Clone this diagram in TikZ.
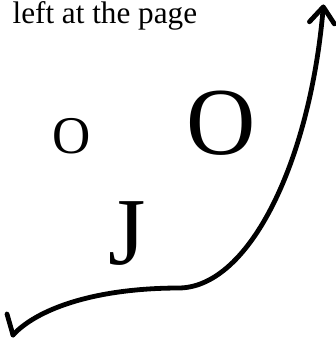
\documentclass[tikz,border=0pt]{standalone}
\usepackage{fontspec}
\setmainfont{Liberation Serif}
\usetikzlibrary{arrows.meta, positioning}

\begin{document}
\begin{tikzpicture}[
  x=1pt, y=1pt,
  letter/.style={inner sep=0pt, outer sep=0pt, text=black},
  caption/.style={letter, font=\fontsize{31.2}{34}\selectfont, anchor=base west},
  smallglyph/.style={letter, font=\fontsize{53}{56}\selectfont, anchor=base},
  bigglyph/.style={letter, font=\fontsize{96}{100}\selectfont},
  stroke/.style={line width=4.8pt, black, line cap=round, line join=round},
  arr/.style={stroke, -{Straight Barb[length=16pt, width=25pt, line cap=round, line join=round]}},
]
  \useasboundingbox (0,0) rectangle (336,341);

  % Caption top left
  \node[caption] (cap) at (12.6,317.8) {left at the page};

  % Letters
  \node[smallglyph] (osmall) at (71.5,187) {O};
  \node[bigglyph, anchor=base] (obig) at (221.5,186) {O};
  \node[bigglyph, anchor=base west] (jay) at (109,76.7) {J};

  % Curve with its arrow
  \coordinate (tail) at (7,27);
  \coordinate (start) at (13,6);
  \coordinate (bend) at (180,53);
  \coordinate (tip) at (323.5,336.5);
  \draw[stroke] (tail) -- (start);
  \draw[arr] (start) .. controls (35,30) and (90,53) .. (bend)
    .. controls (250,55) and (310,180) .. (tip);
\end{tikzpicture}
\end{document}
